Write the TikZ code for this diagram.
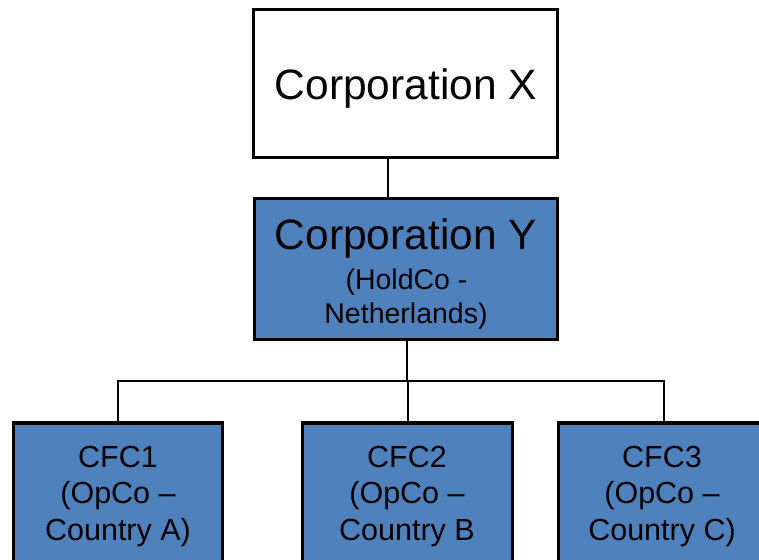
\documentclass[tikz,border=0pt]{standalone}
\usepackage{fontspec}
\setmainfont{Liberation Sans}
\definecolor{boxblue}{HTML}{4F81BD}
\tikzset{
  entity/.style={draw=black, line width=3.3bp, rectangle, inner sep=0pt},
  parent/.style={entity, fill=white},
  owned/.style={entity, fill=boxblue},
  link/.style={draw=black, line width=2bp},
  bigtext/.style={anchor=base, inner sep=0pt, font=\fontsize{42.5bp}{50bp}\selectfont},
  subtext/.style={anchor=base, inner sep=0pt, font=\fontsize{28.5bp}{34bp}\selectfont},
  cfctext/.style={anchor=base, inner sep=0pt, font=\fontsize{30.5bp}{36bp}\selectfont}
}
\begin{document}
\begin{tikzpicture}[x=1bp, y=-1bp]
  \useasboundingbox (0,0) rectangle (759,560);
  \clip (0,0) rectangle (759,560);

  % boxes
  \node[parent, minimum width=304bp, minimum height=148bp] (X) at (405.5,83.8) {};
  \node[owned, minimum width=303bp, minimum height=141bp] (Y) at (406,269.3) {};
  \node[owned, minimum width=209bp, minimum height=160bp, anchor=north] (c1) at (118,421.2) {};
  \node[owned, minimum width=210bp, minimum height=160bp, anchor=north] (c2) at (407.5,421.2) {};
  \node[owned, minimum width=210bp, minimum height=160bp, anchor=north] (c3) at (663.5,421.2) {};

  % connectors
  \coordinate (xy) at (387.5,0);
  \coordinate (bus) at (407,380.8);
  \draw[link] (X.south -| xy) -- (Y.north -| xy);
  \draw[link] (Y.south -| bus) -- (bus);
  \draw[link] (c1.north) |- (bus) -| (c3.north);
  \draw[link] (c2.north) -- (c2.north |- bus);

  % labels
  \node[bigtext] (xt) at (406,100) {Corporation X};
  \node[bigtext] (yt) at (406,250) {Corporation Y};
  \node[subtext] (yt2) at (406.5,290) {(HoldCo -};
  \node[subtext] (yt3) at (406,323) {Netherlands)};

  \node[cfctext] (a1) at (118,467) {CFC1};
  \node[cfctext] (a2) at (118,503) {(OpCo –};
  \node[cfctext] (a3) at (118,540) {Country A)};

  \node[cfctext] (b1) at (407,467) {CFC2};
  \node[cfctext] (b2) at (407,503) {(OpCo –};
  \node[cfctext] (b3) at (407,540) {Country B};

  \node[cfctext] (d1) at (662,467) {CFC3};
  \node[cfctext] (d2) at (662,503) {(OpCo –};
  \node[cfctext] (d3) at (662,540) {Country C)};
\end{tikzpicture}
\end{document}
